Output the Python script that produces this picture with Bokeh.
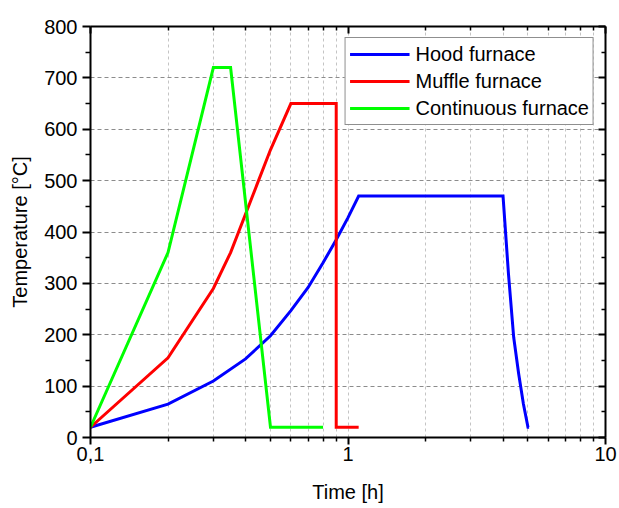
from bokeh.plotting import figure
from bokeh.models import (Range1d, FixedTicker, LogAxis, LinearAxis, Legend, LegendItem)
from bokeh.embed import file_html
from bokeh.resources import INLINE

# ---- data ----
hood_x = [0.1, 0.2, 0.3, 0.4, 0.5, 0.6, 0.7, 0.8, 0.9, 1.0, 1.1, 4.0, 4.2, 4.4, 4.6, 4.8, 5.0, 5.05]
hood_y = [20, 65, 110, 153, 198, 247, 292, 340, 385, 428, 470, 470, 318, 195, 124, 65, 20, 20]

muffle_x = [0.1, 0.2, 0.3, 0.35, 0.5, 0.6, 0.9, 0.9, 1.1]
muffle_y = [20, 155, 290, 360, 560, 650, 650, 20, 20]

cont_x = [0.1, 0.2, 0.3, 0.35, 0.5, 0.8]
cont_y = [20, 360, 720, 720, 20, 20]

series_names = ["Hood furnace", "Muffle furnace", "Continuous furnace"]
series_colors = ["#0000FF", "#FF0000", "#00FF00"]

x_major = [0.1, 1, 10]
x_minor = [0.2, 0.3, 0.4, 0.5, 0.6, 0.7, 0.8, 0.9, 2, 3, 4, 5, 6, 7, 8, 9]
x_labels = {0.1: "0,1", 1: "1", 10: "10"}
y_major = [0, 100, 200, 300, 400, 500, 600, 700, 800]
y_minor = [50, 150, 250, 350, 450, 550, 650, 750]

FONT = "Liberation Sans"

p = figure(width=619, height=508, x_axis_type="log",
           x_range=Range1d(0.1, 10), y_range=Range1d(0, 800),
           output_backend="svg", toolbar_location=None,
           min_border_left=90, min_border_right=14, min_border_top=26, min_border_bottom=71)
p.outline_line_color = None
p.background_fill_color = "white"

xt = FixedTicker(ticks=x_major, minor_ticks=x_minor)
yt = FixedTicker(ticks=y_major, minor_ticks=y_minor)

# bottom axis
ax = p.xaxis[0]
ax.ticker = xt
ax.major_label_overrides = {k: v for k, v in x_labels.items()}
ax.axis_label = "Time [h]"
ax.axis_label_text_font = FONT
ax.axis_label_text_font_size = "20px"
ax.axis_label_text_font_style = "normal"
ax.axis_label_text_color = "black"
ax.axis_label_standoff = 17
ax.major_label_text_font = FONT
ax.major_label_text_font_size = "20px"
ax.major_label_text_color = "black"
ax.major_label_standoff = 2
ax.axis_line_width = 2
ax.major_tick_line_width = 2
ax.minor_tick_line_width = 1.5
ax.major_tick_out = 7
ax.major_tick_in = 0
ax.minor_tick_out = 4
ax.minor_tick_in = 0

# left axis
ay = p.yaxis[0]
ay.ticker = yt
ay.axis_label = "Temperature [°C]"
ay.axis_label_text_font = FONT
ay.axis_label_text_font_size = "20px"
ay.axis_label_text_font_style = "normal"
ay.axis_label_text_color = "black"
ay.axis_label_standoff = 10
ay.major_label_text_font = FONT
ay.major_label_text_font_size = "20px"
ay.major_label_text_color = "black"
ay.major_label_standoff = 5
ay.axis_line_width = 2
ay.major_tick_line_width = 2
ay.minor_tick_line_width = 1.5
ay.major_tick_out = 8
ay.major_tick_in = 0
ay.minor_tick_out = 5
ay.minor_tick_in = 0

# top and right mirror axes
top = LogAxis(ticker=FixedTicker(ticks=x_major, minor_ticks=x_minor),
              major_label_text_color=None, major_label_text_font_size="0px",
              major_label_standoff=0, axis_line_width=2,
              major_tick_in=7, major_tick_out=0, minor_tick_in=4, minor_tick_out=0,
              major_tick_line_width=2, minor_tick_line_width=1.5)
p.add_layout(top, "above")
right = LinearAxis(ticker=FixedTicker(ticks=y_major, minor_ticks=y_minor),
                   major_label_text_color=None, major_label_text_font_size="0px",
                   major_label_standoff=0, axis_line_width=2,
                   major_tick_in=7, major_tick_out=0, minor_tick_in=4, minor_tick_out=0,
                   major_tick_line_width=2, minor_tick_line_width=1.5)
p.add_layout(right, "right")

# grids
p.xgrid.grid_line_color = "#c4c4c4"
p.xgrid.grid_line_dash = "3 3"
p.xgrid.grid_line_width = 1
p.xgrid.minor_grid_line_color = "#c4c4c4"
p.xgrid.minor_grid_line_dash = "3 3"
p.xgrid.minor_grid_line_width = 1
p.ygrid.grid_line_color = "#8c8c8c"
p.ygrid.grid_line_dash = "4 3"
p.ygrid.grid_line_width = 1

# lines
r_hood = p.line(hood_x, hood_y, line_color=series_colors[0], line_width=3, line_join="miter")
r_muf = p.line(muffle_x, muffle_y, line_color=series_colors[1], line_width=3, line_join="miter")
r_con = p.line(cont_x, cont_y, line_color=series_colors[2], line_width=3, line_join="miter")

legend = Legend(items=[LegendItem(label=series_names[0], renderers=[r_hood]),
                       LegendItem(label=series_names[1], renderers=[r_muf]),
                       LegendItem(label=series_names[2], renderers=[r_con])],
                location="top_right", margin=11, padding=4, spacing=3,
                glyph_width=60, glyph_height=24, label_height=24, label_standoff=6,
                label_text_font=FONT, label_text_font_size="20px",
                label_text_color="black",
                border_line_color="#202020", border_line_width=1.5,
                background_fill_color="white", background_fill_alpha=1)
p.add_layout(legend, "center")

open("out.html", "w").write(file_html(p, INLINE))
